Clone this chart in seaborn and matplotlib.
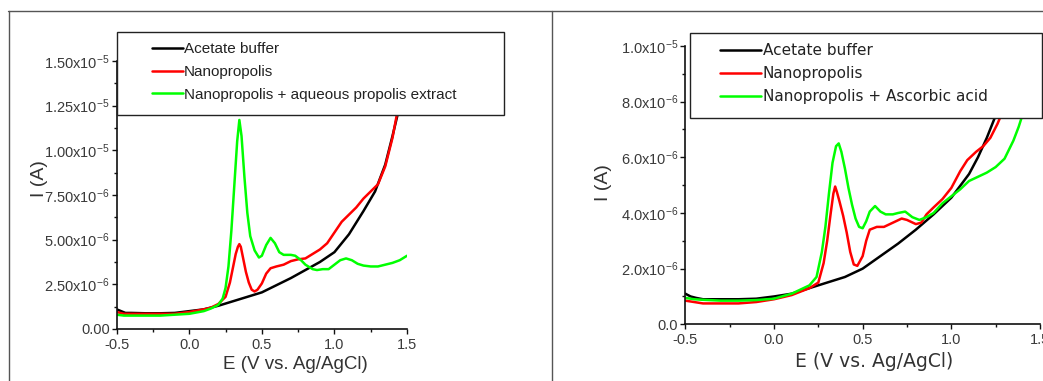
import matplotlib
matplotlib.use("Agg")
import matplotlib.pyplot as plt
import seaborn as sns
from matplotlib.lines import Line2D
from matplotlib.patches import Rectangle
from matplotlib.ticker import AutoMinorLocator

W, H = 1043, 381

# --- left panel: propolis extract (currents in 1e-6 A) ---
left_black_E = [-0.5, -0.47, -0.44, -0.4, -0.3, -0.2, -0.1, 0.0, 0.1, 0.2, 0.3, 0.4, 0.5, 0.6,
                0.7, 0.8, 0.9, 1.0, 1.1, 1.2, 1.28, 1.35, 1.4, 1.45]
left_black_I = [1.1, 1.0, 0.9, 0.9, 0.88, 0.88, 0.9, 1.0, 1.1, 1.3, 1.55, 1.8, 2.05, 2.45,
                2.85, 3.3, 3.75, 4.3, 5.3, 6.6, 7.7, 9.2, 10.8, 12.5]

left_red_E = [-0.5, -0.45, -0.4, -0.3, -0.2, -0.1, 0.0, 0.1, 0.15, 0.2, 0.25, 0.28, 0.3, 0.32,
              0.335, 0.345, 0.355, 0.37, 0.39, 0.41, 0.43, 0.45, 0.47, 0.5, 0.53, 0.56, 0.6,
              0.65, 0.7, 0.75, 0.8, 0.85, 0.9, 0.95, 1.0, 1.05, 1.1, 1.15, 1.2, 1.25, 1.3,
              1.35, 1.4, 1.43, 1.45]
left_red_I = [0.95, 0.85, 0.85, 0.85, 0.85, 0.85, 0.95, 1.1, 1.2, 1.4, 1.8, 2.6, 3.4, 4.2,
              4.6, 4.75, 4.6, 4.0, 3.2, 2.6, 2.2, 2.1, 2.2, 2.55, 3.1, 3.4, 3.5,
              3.6, 3.8, 3.9, 3.95, 4.2, 4.45, 4.8, 5.4, 6.0, 6.4, 6.8, 7.3, 7.7, 8.1,
              9.1, 10.7, 12.0, 13.0]

left_green_E = [-0.5, -0.45, -0.4, -0.3, -0.2, -0.1, 0.0, 0.1, 0.15, 0.2, 0.23, 0.25, 0.27,
                0.29, 0.31, 0.33, 0.345, 0.36, 0.38, 0.4, 0.42, 0.45, 0.48, 0.5, 0.53, 0.56,
                0.59, 0.62, 0.65, 0.7, 0.73, 0.77, 0.8, 0.85, 0.88, 0.92, 0.96, 1.0, 1.04,
                1.08, 1.12, 1.16, 1.2, 1.25, 1.3, 1.35, 1.4, 1.45, 1.5]
left_green_I = [0.8, 0.75, 0.75, 0.75, 0.75, 0.8, 0.85, 1.0, 1.15, 1.35, 1.7, 2.3, 3.5,
                5.5, 8.0, 10.5, 11.7, 10.8, 8.5, 6.5, 5.2, 4.4, 4.0, 4.1, 4.7, 5.1,
                4.8, 4.3, 4.15, 4.15, 4.1, 3.85, 3.6, 3.35, 3.3, 3.35, 3.35, 3.6, 3.85,
                3.95, 3.85, 3.65, 3.55, 3.5, 3.5, 3.6, 3.7, 3.85, 4.1]

# --- right panel: ascorbic acid (currents in 1e-6 A) ---
right_black_E = [-0.5, -0.47, -0.44, -0.4, -0.3, -0.2, -0.1, 0.0, 0.1, 0.2, 0.3, 0.4, 0.5, 0.6,
                 0.7, 0.8, 0.9, 1.0, 1.1, 1.15, 1.2, 1.25, 1.3]
right_black_I = [1.1, 1.0, 0.95, 0.9, 0.9, 0.9, 0.92, 1.0, 1.1, 1.3, 1.5, 1.7, 2.0, 2.45,
                 2.9, 3.4, 3.95, 4.55, 5.4, 6.0, 6.7, 7.5, 8.5]

right_red_E = [-0.5, -0.45, -0.4, -0.3, -0.2, -0.1, 0.0, 0.1, 0.2, 0.25, 0.28, 0.3, 0.32,
               0.335, 0.345, 0.355, 0.37, 0.39, 0.41, 0.43, 0.45, 0.47, 0.5, 0.52, 0.54, 0.58,
               0.62, 0.67, 0.72, 0.75, 0.8, 0.83, 0.86, 0.9, 0.95, 1.0, 1.05, 1.09, 1.14,
               1.18, 1.22, 1.26, 1.3, 1.33]
right_red_I = [0.85, 0.8, 0.75, 0.75, 0.75, 0.8, 0.9, 1.05, 1.3, 1.5, 2.2, 3.0, 4.0,
               4.7, 4.95, 4.75, 4.4, 3.9, 3.3, 2.6, 2.15, 2.1, 2.45, 3.0, 3.4, 3.5,
               3.5, 3.65, 3.8, 3.75, 3.6, 3.65, 3.95, 4.2, 4.5, 4.9, 5.5, 5.9, 6.2,
               6.4, 6.7, 7.2, 7.8, 8.5]

right_green_E = [-0.5, -0.45, -0.4, -0.3, -0.2, -0.1, 0.0, 0.1, 0.2, 0.24, 0.27, 0.29, 0.31,
                 0.33, 0.35, 0.365, 0.38, 0.4, 0.42, 0.44, 0.46, 0.48, 0.5, 0.52, 0.54, 0.57,
                 0.6, 0.63, 0.67, 0.7, 0.74, 0.78, 0.82, 0.86, 0.9, 0.95, 1.0, 1.05, 1.1,
                 1.15, 1.2, 1.25, 1.3, 1.35, 1.38, 1.41]
right_green_I = [0.95, 0.9, 0.88, 0.85, 0.85, 0.87, 0.92, 1.1, 1.4, 1.7, 2.6, 3.5, 4.7,
                 5.8, 6.4, 6.5, 6.2, 5.6, 4.9, 4.3, 3.8, 3.5, 3.45, 3.7, 4.05, 4.25,
                 4.05, 3.95, 3.95, 4.0, 4.05, 3.85, 3.75, 3.85, 4.0, 4.35, 4.6, 4.85, 5.15,
                 5.3, 5.45, 5.65, 5.95, 6.6, 7.1, 7.7]

x_ticks = [-0.5, 0.0, 0.5, 1.0, 1.5]
x_labels = ["-0.5", "0.0", "0.5", "1.0", "1.5"]
left_yticks = [0, 2.5e-6, 5e-6, 7.5e-6, 1e-5, 1.25e-5, 1.5e-5]
left_ylabels = ["0.00", "2.50x10$^{-6}$", "5.00x10$^{-6}$", "7.50x10$^{-6}$",
                "1.00x10$^{-5}$", "1.25x10$^{-5}$", "1.50x10$^{-5}$"]
right_yticks = [0, 2e-6, 4e-6, 6e-6, 8e-6, 1e-5]
right_ylabels = ["0.0", "2.0x10$^{-6}$", "4.0x10$^{-6}$", "6.0x10$^{-6}$",
                 "8.0x10$^{-6}$", "1.0x10$^{-5}$"]

left_labels = ["Acetate buffer", "Nanopropolis", "Nanopropolis + aqueous propolis extract"]
right_labels = ["Acetate buffer", "Nanopropolis", "Nanopropolis + Ascorbic acid"]
colors = ["#000000", "#ff0000", "#00ff00"]

sns.set_style("ticks")
plt.rcParams["font.family"] = ["Liberation Sans", "DejaVu Sans"]
plt.rcParams["mathtext.fontset"] = "custom"
plt.rcParams["mathtext.rm"] = "Liberation Sans"
plt.rcParams["mathtext.default"] = "regular"

fig = plt.figure(figsize=(W / 100, H / 100), dpi=100)


def px_axes(x0, x1, y_top, y_bot):
    return fig.add_axes([x0 / W, (H - y_bot) / H, (x1 - x0) / W, (y_bot - y_top) / H])


def style_axes(ax, ylim, yticks, ylabels, yminor):
    ax.set_xlim(-0.5, 1.5)
    ax.set_ylim(*ylim)
    ax.set_xticks(x_ticks)
    ax.set_xticklabels(x_labels)
    ax.set_yticks(yticks)
    ax.set_yticklabels(ylabels)
    ax.xaxis.set_minor_locator(AutoMinorLocator(2))
    ax.yaxis.set_minor_locator(AutoMinorLocator(yminor))
    for s in ["top", "right"]:
        ax.spines[s].set_visible(False)
    for s in ["left", "bottom"]:
        ax.spines[s].set_linewidth(1.2)
        ax.spines[s].set_color("#111111")
    ax.tick_params(which="major", direction="out", length=3.5, width=1.0, color="#111111",
                   labelsize=10.5, labelcolor="#3a3a3a", pad=3)
    ax.tick_params(axis="y", which="major", pad=1.5)
    ax.tick_params(which="minor", direction="out", length=2.5, width=1.0, color="#111111")
    ax.set_facecolor("white")


# left panel
axL = px_axes(116.7, 407, 61, 329)
for E, I, c, lab in zip([left_black_E, left_red_E, left_green_E],
                        [left_black_I, left_red_I, left_green_I], colors, left_labels):
    sns.lineplot(x=E, y=[v * 1e-6 for v in I], color=c, lw=1.8, ax=axL, label=lab,
                 sort=False, estimator=None, legend=False)
style_axes(axL, (0, 1.5e-5), left_yticks, left_ylabels, 2)
axL.set_xlabel("E (V vs. Ag/AgCl)", fontsize=13.5, color="#333333")
axL.set_ylabel("I (A)", fontsize=14, color="#333333")
axL.xaxis.set_label_coords(0.614, -0.1)
axL.yaxis.set_label_coords(-0.237, 0.56)

# right panel
axR = px_axes(685.3, 1040, 46, 324.3)
for E, I, c, lab in zip([right_black_E, right_red_E, right_green_E],
                        [right_black_I, right_red_I, right_green_I], colors, right_labels):
    sns.lineplot(x=E, y=[v * 1e-6 for v in I], color=c, lw=1.8, ax=axR, label=lab,
                 sort=False, estimator=None, legend=False)
style_axes(axR, (0, 1.0e-5), right_yticks, right_ylabels, 2)
axR.set_xlabel("E (V vs. Ag/AgCl)", fontsize=13.5, color="#333333", family="DejaVu Sans")
axR.set_ylabel("I (A)", fontsize=14, color="#333333")
axR.xaxis.set_label_coords(0.532, -0.1)
axR.yaxis.set_label_coords(-0.207, 0.508)

# outer frame lines
frame_kw = dict(color="#555555", lw=1.0, transform=fig.transFigure, zorder=1)
fig.add_artist(Line2D([8 / W, 1.0], [1 - 11 / H, 1 - 11 / H], **frame_kw))
fig.add_artist(Line2D([9 / W, 9 / W], [0, 1 - 11 / H], **frame_kw))
fig.add_artist(Line2D([552 / W, 552 / W], [0, 1 - 11 / H], **frame_kw))

# legend boxes drawn above the curves
for x0, x1, y0, y1 in [(117, 504, 32, 115), (690, 1042, 33, 118)]:
    fig.add_artist(Rectangle((x0 / W, 1 - y1 / H), (x1 - x0) / W, (y1 - y0) / H,
                             transform=fig.transFigure, facecolor="white",
                             edgecolor="#222222", lw=1.0, zorder=3))

hL = [Line2D([], [], color=c, lw=1.8) for c in colors]
fig.legend(hL, left_labels, loc="upper left", bbox_to_anchor=(152 / W, 1 - 42 / H),
           frameon=False, borderpad=0, borderaxespad=0, handlelength=2.0,
           handletextpad=0.1, labelspacing=0.58, prop={"size": 11}, labelcolor="#222222")
fig.legend(hL, right_labels, loc="upper left", bbox_to_anchor=(720 / W, 1 - 43 / H),
           frameon=False, borderpad=0, borderaxespad=0, handlelength=2.7,
           handletextpad=0.1, labelspacing=0.52, prop={"size": 11, "family": "DejaVu Sans"},
           labelcolor="#222222")

fig.savefig("out.png", dpi=100)
